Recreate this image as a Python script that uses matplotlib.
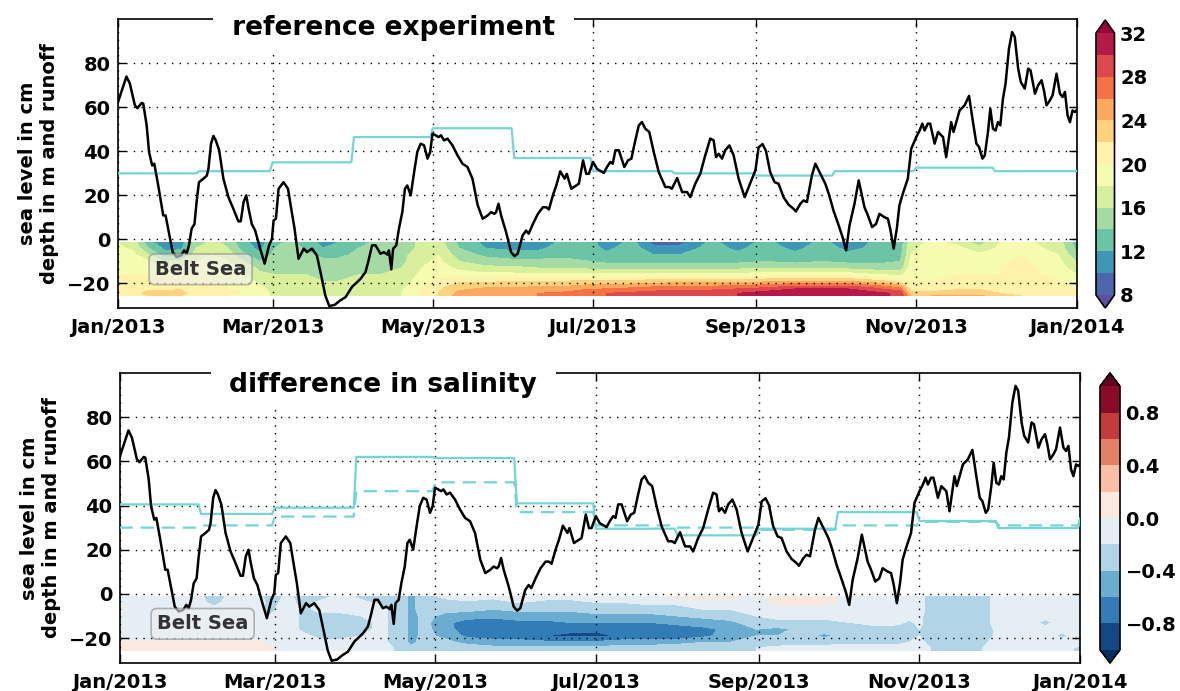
import numpy as np
import matplotlib
matplotlib.use("Agg")
import matplotlib.pyplot as plt
import matplotlib.dates as mdates
from datetime import datetime

# sea level in cm, days counted from 2013-01-01
sl_day = [0, 3.4, 4.7, 6.6, 7.6, 9.2, 9.8, 11.1, 12.0, 13.2, 14.0, 15.5, 17.4, 18.3, 19.3,
          21.0, 22.5, 24.2, 25.4, 26.3, 27.2, 28.2, 29.3, 30.1, 31.0, 32.7, 34.0, 34.6, 35.6,
          36.5, 37.4, 38.7, 40.3, 42.2, 44.1, 46.0, 46.9, 48.0, 49.0, 49.9, 51.1, 52.4, 54.3,
          56.0, 57.7, 58.8, 59.4, 60.3, 61.3, 63.2, 64.9, 66.0, 67.4, 68.9, 70.9, 72.1, 74.0,
          75.9, 77.8, 79.1, 80.6, 82.7, 84.8, 86.8, 89.3, 90.6, 92.5, 94.4, 95.4, 96.9, 98.2,
          100.1, 101.4, 102.7, 103.3, 104.2, 104.9, 106.1, 107.1, 108.4, 109.4, 110.3, 111.6,
          112.9, 114.1, 115.4, 116.7, 118.0, 119.0, 119.9, 121.1, 122.2, 123.1, 124.3, 125.6,
          127.5, 129.4, 131.3, 133.2, 135.1, 137.1, 139.0, 140.9, 142.2, 143.4, 144.1, 145.0,
          146.0, 147.9, 149.8, 151.1, 152.3, 154.2, 155.5, 156.5, 158.1, 160.0, 161.9, 163.2,
          164.2, 165.7, 167.0, 168.5, 170.2, 171.0, 172.7, 174.6, 175.6, 177.2, 178.4, 179.4,
          181.0, 182.5, 185.1, 186.3, 187.6, 188.5, 189.5, 190.8, 192.9, 194.3, 195.6, 196.8,
          198.4, 199.6, 200.9, 202.4, 204.1, 206.0, 208.5, 210.0, 211.0, 213.0, 214.9, 216.8,
          218.0, 219.9, 221.8, 223.7, 225.6, 226.9, 227.8, 228.8, 230.1, 231.3, 232.9, 234.5,
          236.4, 238.7, 240.5, 242.8, 244.0, 245.5, 246.8, 248.4, 250.1, 251.6, 253.5, 255.4,
          257.3, 258.2, 259.9, 261.1, 262.4, 264.3, 265.6, 267.5, 269.4, 270.9, 272.5, 274.1,
          276.0, 277.3, 278.6, 280.5, 282.1, 284.3, 285.6, 287.2, 288.7, 290.0, 291.9, 293.2,
          294.1, 295.4, 296.6, 297.6, 298.9, 300.8, 302.1, 304.0, 305.3, 306.3, 307.2, 308.4,
          309.3, 311.0, 312.3, 314.2, 315.4, 317.3, 318.2, 320.5, 322.4, 324.1, 325.6, 326.9,
          327.9, 329.2, 330.1, 331.3, 332.2, 333.2, 334.2, 335.1, 336.0, 337.0, 338.0, 339.3,
          340.5, 341.5, 342.8, 343.8, 345.3, 346.6, 347.5, 349.2, 350.4, 351.7, 352.6, 353.6,
          354.9, 355.9, 357.4, 358.7, 359.7, 360.6, 361.6, 362.5, 363.5, 364.4, 365.0]
sl_cm = [61.7, 74, 70.8, 61, 59.6, 62, 61.7, 51.8, 39.7, 33.6, 34.4, 24.5, 10.9, 10.9, 4.8,
         -5.8, -8, -7.3, -5, -6.5, -2.7, 4.8, 7, 17, 26, 27.6, 29, 32, 43.5,
         47, 45, 40.5, 27.6, 19.2, 13.9, 8.2, 8.2, 17, 20, 13.9, 7, 4, -4.2,
         -11, -2.7, 0.3, 8.6, 9.4, 23, 26, 23, 14.8, 4.8, -8.8, -4.2, -5.8, -4.2,
         -7.3, -17.9, -25.5, -30.3, -29.7, -27.7, -26.2, -21.5, -20.1, -17.9, -14.8, -10.3, -2.7, -2.7,
         -6.5, -5.8, -6.9, -5, -13.6, -4.2, -2.7, 4.8, 12.4, 23, 24.5, 20,
         30.6, 39.7, 43.5, 42.7, 36.7, 39.7, 48, 47.3, 46.5, 47.3, 45, 45.8,
         42.7, 38.2, 34.4, 32.9, 27.6, 15.5, 9.4, 10.9, 12.4, 11.6, 12.4, 16.2,
         10.9, 3.3, -5.8, -7.6, -6.5, 1.8, 4, 2.6, 7, 11.6, 14.6, 14.6,
         13.6, 20, 24.5, 30.9, 27.6, 29.8, 23, 24.5, 25.3, 35.9, 29.8, 29.8,
         35.2, 32, 30.2, 32.9, 35.2, 34.4, 40.5, 40.5, 32.9, 35.9, 36.7, 43.5,
         51.8, 53.3, 50.3, 48.8, 39.7, 30.6, 23.8, 23.8, 23, 27.9, 21.5, 21.5,
         19.2, 25.3, 29.8, 38.2, 45.8, 45, 37.4, 38.9, 36.7, 40.5, 42.7, 38.2,
         27.6, 19.2, 24.5, 31.4, 41.8, 43.3, 40.2, 30.6, 26, 25.3, 19.2, 15.8,
         13.9, 12.7, 16.2, 17.7, 17, 29.1, 34.4, 29.8, 25.3, 20, 13.1, 7.7,
         0.9, -5, 6.3, 16.2, 26.8, 14.6, 10.9, 5.6, 7, 11.6, 10.1, 9.4,
         4.8, -4.2, 4.8, 15.5, 20.8, 27.6, 41.2, 46.5, 49.5, 52.6, 49.5, 52.6,
         52.6, 43.5, 48.8, 46.5, 37.4, 53.3, 48.8, 58.6, 60.9, 65.2, 53.3, 43.5,
         42, 36.7, 38.2, 48.8, 59.4, 50.3, 49.5, 53.3, 51.8, 63.9, 70.8, 86.7,
         94.2, 92, 77.6, 71.5, 68.5, 77.6, 76.8, 66.2, 70, 72.3, 67.7, 60.9,
         63.2, 65.5, 75.3, 66.2, 64.7, 67, 56.4, 53.3, 58.6, 57.9, 58.6]

# monthly runoff (Jan 2013 ... Dec 2013, Jan 2014)
month_len = [31, 28, 31, 30, 31, 30, 31, 31, 30, 31, 30, 31]
runoff_ref = [30, 31, 35, 46.5, 50.5, 37, 31, 30, 29, 31, 32.6, 31, 31]
runoff_exp = [40.5, 36.2, 39, 62, 61.5, 41, 29.5, 26.5, 29.5, 37, 33, 29.8, 34]

# salinity profiles, top to bottom
depth = [-1.4, -4, -7, -10, -13, -16, -19, -22, -24.5, -25.7]
sal_day = [0, 6, 12, 18, 24, 30, 36, 42, 48, 54, 60, 66, 72, 78, 84, 92, 100, 108, 116, 122,
           130, 140, 150, 160, 170, 180, 186, 196, 204, 214, 226, 236, 246, 258, 268, 278,
           290, 298, 302, 310, 320, 328, 336, 344, 352, 358, 365]
sal = [
    [18, 18.5, 19, 19.5, 20, 20, 20.5, 21, 21, 21],
    [17, 17.5, 18.5, 19, 19.5, 20, 20.5, 21, 21.5, 21.5],
    [12.5, 14, 16, 18, 19, 20, 20.5, 21.5, 22.5, 22],
    [11, 11.5, 13, 16, 18, 19.5, 20.5, 21.5, 22.5, 22],
    [11, 11.5, 13.5, 16.5, 18, 19, 20, 21.5, 23, 22],
    [15, 16, 17, 18, 18.5, 19, 19.5, 20, 20.5, 20.5],
    [16.5, 17, 18, 18.5, 19, 19.5, 20, 20.5, 21, 20.5],
    [15.5, 16, 17, 18, 18.5, 19, 19.5, 20, 20.5, 20],
    [12.5, 13, 14.5, 16, 17.5, 18.5, 19, 19.5, 20, 20],
    [11, 11.5, 12.5, 14, 15.5, 16.5, 17.5, 18.5, 19, 19],
    [13.5, 14, 14.5, 15, 15.5, 16, 16.5, 17, 17.5, 17.5],
    [14.5, 15, 15, 15.5, 16, 16, 16.5, 17, 17.5, 17.5],
    [13, 13.5, 14.5, 15, 15.5, 16, 16.5, 17, 17.5, 17.5],
    [11.5, 12, 13.5, 14.5, 15, 15.5, 16, 16.5, 17, 17],
    [12, 12.5, 13.5, 14.5, 15, 15.5, 16, 16.5, 17, 17],
    [13.5, 14, 14.5, 15, 15.5, 16, 16.5, 17, 17.5, 17.5],
    [14.5, 14.5, 15, 15, 15.5, 16, 16.5, 17, 17.5, 17.5],
    [15, 15, 15.5, 15.5, 16, 16.5, 17, 17.5, 18, 18],
    [16.5, 16.5, 17, 17.5, 18, 18.5, 19, 20, 20.5, 20.5],
    [17, 17.5, 18, 18.5, 19, 19.5, 20.5, 21.5, 22, 22],
    [13.5, 14, 15, 16, 17.5, 19, 21.5, 23.5, 24.5, 25],
    [11.5, 12, 13.5, 15, 16.5, 18.5, 21.5, 24, 25, 25.5],
    [10.5, 11.5, 13, 14.5, 16.5, 18.5, 22, 24, 25.5, 25.5],
    [11, 11.5, 13, 14.5, 16, 18.5, 22, 24.5, 26, 26],
    [12.5, 13, 13.5, 14.5, 16, 18.5, 22, 24.5, 26.5, 26.5],
    [12.5, 13, 13.5, 14, 15.5, 18.5, 22.5, 25.5, 27.5, 27.5],
    [11, 11.5, 12.5, 13.5, 15.5, 18.5, 22.5, 25.5, 28, 28],
    [12.5, 13, 13, 13.5, 15.5, 18.5, 22.5, 26, 28.5, 28.5],
    [9.5, 10.5, 12, 13.5, 15.5, 18.5, 23, 26.5, 29, 29],
    [9.5, 10.5, 12, 13.5, 15.5, 18.5, 23, 27, 29.5, 29.5],
    [12.5, 13, 13, 13.5, 15.5, 18.5, 23, 27, 29.5, 29.5],
    [11, 11.5, 12.5, 13.5, 15.5, 18.5, 23, 27.5, 30, 30],
    [12.5, 13, 13, 14, 16, 19, 23.5, 28, 31, 31],
    [11, 11.5, 12.5, 13.5, 15.5, 19, 24, 29.5, 32, 32],
    [12.5, 13, 13, 14, 16, 19, 24, 29.5, 32, 32],
    [11, 11.5, 12.5, 13.5, 15.5, 19, 24, 29.5, 32, 32],
    [12.5, 12.5, 13, 13.5, 15, 18, 22.5, 27.5, 30.5, 30.5],
    [13, 13, 13.5, 14, 15, 17.5, 21, 26, 29.5, 29.5],
    [17, 17.5, 18, 18.5, 19, 19.5, 20, 21, 22.5, 24],
    [18.5, 19, 19, 19.5, 19.5, 20, 20, 21, 22.5, 24],
    [17.5, 18.5, 19, 19.5, 19.5, 20, 20.5, 21.5, 23, 24.5],
    [15, 16.5, 18.5, 19, 19.5, 20, 20.5, 21.5, 23, 24.5],
    [18, 18.5, 19, 19.5, 20, 20, 21, 21.5, 22, 22.5],
    [19, 19.5, 20, 20.5, 21, 21, 21.5, 21.5, 22, 22],
    [17.5, 18, 18.5, 19, 19.5, 20, 20.5, 21, 21, 21],
    [17, 17.5, 18, 18.5, 19, 19.5, 20, 20.5, 21, 21],
    [13, 13.5, 14.5, 16, 17, 18, 19, 20, 20.5, 20.5],
]

# salinity difference (experiment minus reference), top to bottom
dsal_day = [0, 10, 20, 30, 36, 44, 52, 57, 64, 70, 76, 84, 92, 100, 106, 111, 116, 124, 132,
            142, 152, 162, 172, 182, 192, 202, 212, 222, 232, 242, 250, 260, 268, 278, 288,
            296, 300, 304, 308, 318, 328, 334, 344, 352, 358, 365]
dsal = [
    [-0.1, -0.1, -0.1, -0.1, -0.1, -0.05, -0.05, 0.02, 0.05, 0.05],
    [-0.05, -0.1, -0.1, -0.1, -0.1, -0.05, -0.05, 0.02, 0.05, 0.05],
    [-0.1, -0.1, -0.1, -0.1, -0.1, -0.05, -0.05, 0.02, 0.05, 0.05],
    [-0.15, -0.15, -0.1, -0.1, -0.1, -0.05, -0.05, 0.02, 0.05, 0.05],
    [-0.3, -0.25, -0.15, -0.1, -0.1, -0.05, -0.05, 0.02, 0.05, 0.05],
    [-0.1, -0.1, -0.1, -0.1, -0.1, -0.05, -0.05, 0.02, 0.05, 0.05],
    [-0.1, -0.1, -0.15, -0.15, -0.1, -0.05, -0.05, 0.02, 0.05, 0.05],
    [-0.3, -0.25, -0.25, -0.2, -0.1, -0.1, -0.05, -0.02, 0.02, 0.02],
    [-0.15, -0.15, -0.1, -0.1, -0.1, -0.1, -0.1, -0.1, -0.05, -0.05],
    [-0.3, -0.25, -0.25, -0.25, -0.25, -0.25, -0.15, -0.1, -0.1, -0.1],
    [-0.3, -0.15, -0.15, -0.25, -0.3, -0.3, -0.25, -0.15, -0.1, -0.1],
    [-0.1, -0.1, -0.15, -0.25, -0.3, -0.3, -0.25, -0.15, -0.1, -0.1],
    [-0.25, -0.15, -0.15, -0.2, -0.25, -0.25, -0.2, -0.15, -0.1, -0.1],
    [-0.3, -0.25, -0.15, -0.15, -0.15, -0.15, -0.15, -0.15, -0.1, -0.1],
    [-0.3, -0.3, -0.3, -0.3, -0.3, -0.3, -0.3, -0.3, -0.25, -0.25],
    [-0.45, -0.45, -0.45, -0.45, -0.45, -0.45, -0.45, -0.45, -0.35, -0.35],
    [-0.3, -0.3, -0.3, -0.35, -0.35, -0.35, -0.35, -0.3, -0.3, -0.3],
    [-0.15, -0.3, -0.35, -0.45, -0.55, -0.5, -0.45, -0.35, -0.3, -0.3],
    [-0.1, -0.25, -0.35, -0.5, -0.7, -0.75, -0.65, -0.45, -0.3, -0.3],
    [-0.15, -0.3, -0.4, -0.55, -0.7, -0.75, -0.7, -0.5, -0.35, -0.35],
    [-0.1, -0.2, -0.35, -0.5, -0.65, -0.75, -0.75, -0.5, -0.35, -0.35],
    [-0.15, -0.25, -0.35, -0.5, -0.65, -0.75, -0.8, -0.55, -0.35, -0.35],
    [-0.15, -0.25, -0.35, -0.5, -0.6, -0.75, -0.85, -0.55, -0.35, -0.35],
    [-0.1, -0.2, -0.3, -0.45, -0.6, -0.75, -0.85, -0.55, -0.35, -0.35],
    [-0.1, -0.2, -0.3, -0.45, -0.6, -0.7, -0.75, -0.5, -0.3, -0.3],
    [-0.05, -0.15, -0.3, -0.45, -0.6, -0.7, -0.7, -0.5, -0.3, -0.3],
    [0.05, -0.15, -0.3, -0.4, -0.55, -0.7, -0.75, -0.45, -0.3, -0.3],
    [0.05, -0.1, -0.2, -0.35, -0.5, -0.65, -0.65, -0.4, -0.25, -0.25],
    [0.05, -0.1, -0.2, -0.3, -0.45, -0.55, -0.5, -0.4, -0.25, -0.25],
    [-0.05, -0.1, -0.15, -0.2, -0.3, -0.4, -0.4, -0.3, -0.2, -0.2],
    [0.05, 0.05, -0.1, -0.15, -0.25, -0.45, -0.4, -0.3, -0.15, -0.15],
    [0.05, 0.05, -0.05, -0.15, -0.25, -0.35, -0.35, -0.25, -0.15, -0.15],
    [0.05, 0.05, -0.1, -0.15, -0.25, -0.3, -0.45, -0.25, -0.15, -0.15],
    [-0.05, -0.05, -0.1, -0.15, -0.2, -0.3, -0.3, -0.25, -0.1, -0.1],
    [-0.05, -0.05, -0.1, -0.1, -0.15, -0.25, -0.3, -0.25, -0.1, -0.1],
    [-0.05, -0.05, -0.1, -0.1, -0.15, -0.3, -0.3, -0.25, -0.1, -0.1],
    [-0.05, -0.05, -0.1, -0.1, -0.25, -0.35, -0.3, -0.2, -0.1, -0.1],
    [-0.1, -0.1, -0.1, -0.15, -0.15, -0.2, -0.2, -0.15, -0.1, -0.1],
    [-0.3, -0.3, -0.3, -0.3, -0.3, -0.3, -0.3, -0.25, -0.2, -0.2],
    [-0.3, -0.3, -0.3, -0.3, -0.3, -0.3, -0.3, -0.25, -0.2, -0.2],
    [-0.3, -0.3, -0.3, -0.3, -0.3, -0.3, -0.3, -0.25, -0.2, -0.2],
    [-0.1, -0.1, -0.1, -0.1, -0.1, -0.15, -0.15, -0.1, -0.1, -0.1],
    [-0.1, -0.1, -0.1, -0.1, -0.1, -0.1, -0.1, -0.1, -0.1, -0.1],
    [-0.1, -0.1, -0.1, -0.15, -0.25, -0.15, -0.1, -0.1, -0.1, -0.1],
    [-0.1, -0.1, -0.1, -0.1, -0.1, -0.15, -0.25, -0.15, -0.1, -0.1],
    [-0.1, -0.1, -0.1, -0.1, -0.1, -0.1, -0.1, -0.15, -0.25, -0.25],
]

plt.rcParams["font.family"] = "DejaVu Sans"
plt.rcParams["font.weight"] = "bold"
plt.rcParams["font.size"] = 14

t0 = mdates.date2num(datetime(2013, 1, 1))
cyan = "#74d5d5"

# daily step series from the monthly runoff
run_t = t0 + np.arange(366)
ref_daily = np.append(np.repeat(runoff_ref[:12], month_len), runoff_ref[12])
exp_daily = np.append(np.repeat(runoff_exp[:12], month_len), runoff_exp[12])

W, H = 1180, 691
fig = plt.figure(figsize=(W / 100, H / 100), dpi=100)
ax1 = fig.add_axes([117.5 / W, (H - 308.3) / H, 959 / W, 289 / H])
cax1 = fig.add_axes([1096 / W, (H - 308) / H, 18.5 / W, 288 / H])
ax2 = fig.add_axes([119.5 / W, (H - 663) / H, 960.5 / W, 290 / H])
cax2 = fig.add_axes([1100 / W, (H - 663) / H, 20 / W, 290 / H])


def panel(ax, days, field, levels, cmap, title, tx, ty):
    cf = ax.contourf(t0 + np.array(days), depth, np.array(field).T,
                     levels=levels, cmap=cmap, extend="both", zorder=0.5)
    ax.plot(t0 + np.array(sl_day), sl_cm, color="k", lw=1.8, zorder=4)
    ax.set_xlim(t0, t0 + 365)
    ax.set_ylim(-31.3, 100)
    ax.set_yticks([-20, 0, 20, 40, 60, 80])
    ticks = [mdates.date2num(datetime(2013, m, 1)) for m in (1, 3, 5, 7, 9, 11)]
    ticks.append(mdates.date2num(datetime(2014, 1, 1)))
    ax.set_xticks(ticks)
    ax.xaxis.set_major_formatter(mdates.DateFormatter("%b/%Y"))
    ax.set_axisbelow("line")
    ax.grid(True, color="k", linestyle=(0, (1, 4.5)), linewidth=1.0)
    ax.tick_params(direction="in", top=True, right=True, length=6, width=1)
    ax.tick_params(axis="x", pad=7)
    ax.tick_params(axis="y", pad=5)
    for s in ax.spines.values():
        s.set_linewidth(1.2)
    ax.set_ylabel("sea level in cm\ndepth in m and runoff", fontsize=14,
                  fontweight="bold", labelpad=6)
    ax.text(tx, ty, " " + title + " ", transform=ax.transAxes, fontsize=19,
            fontweight="bold", ha="left", va="baseline", zorder=6,
            bbox=dict(boxstyle="square,pad=0.36", fc="white", ec="none"))
    ax.text(0.039, 0.135, "Belt Sea", transform=ax.transAxes, fontsize=14,
            fontweight="bold", color="#333333", ha="left", va="center", zorder=5,
            bbox=dict(boxstyle="round,pad=0.3", fc="#eeeeee", ec="#888888",
                      alpha=0.6, lw=1.2))
    return cf


cf1 = panel(ax1, sal_day, sal, np.arange(8, 33, 2), "Spectral_r",
            "reference experiment", 0.110, 0.947)
ax1.plot(run_t, ref_daily, color=cyan, lw=1.6, zorder=3)

cf2 = panel(ax2, dsal_day, dsal, np.linspace(-1.0, 1.0, 11), "RdBu_r",
            "difference in salinity", 0.105, 0.933)
ax2.plot(run_t, exp_daily, color=cyan, lw=1.6, zorder=3)
ax2.plot(run_t, ref_daily, color=cyan, lw=1.6, ls=(0, (6, 3.5)), zorder=3)

cb1 = fig.colorbar(cf1, cax=cax1, ticks=[8, 12, 16, 20, 24, 28, 32])
cb2 = fig.colorbar(cf2, cax=cax2, ticks=[-0.8, -0.4, 0.0, 0.4, 0.8])
cb2.ax.set_yticklabels(["\u22120.8", "\u22120.4", "0.0", "0.4", "0.8"])
for cb in (cb1, cb2):
    cb.ax.tick_params(length=0, labelsize=14, pad=4)
    cb.outline.set_linewidth(1.2)

fig.savefig("out.png", dpi=100)
